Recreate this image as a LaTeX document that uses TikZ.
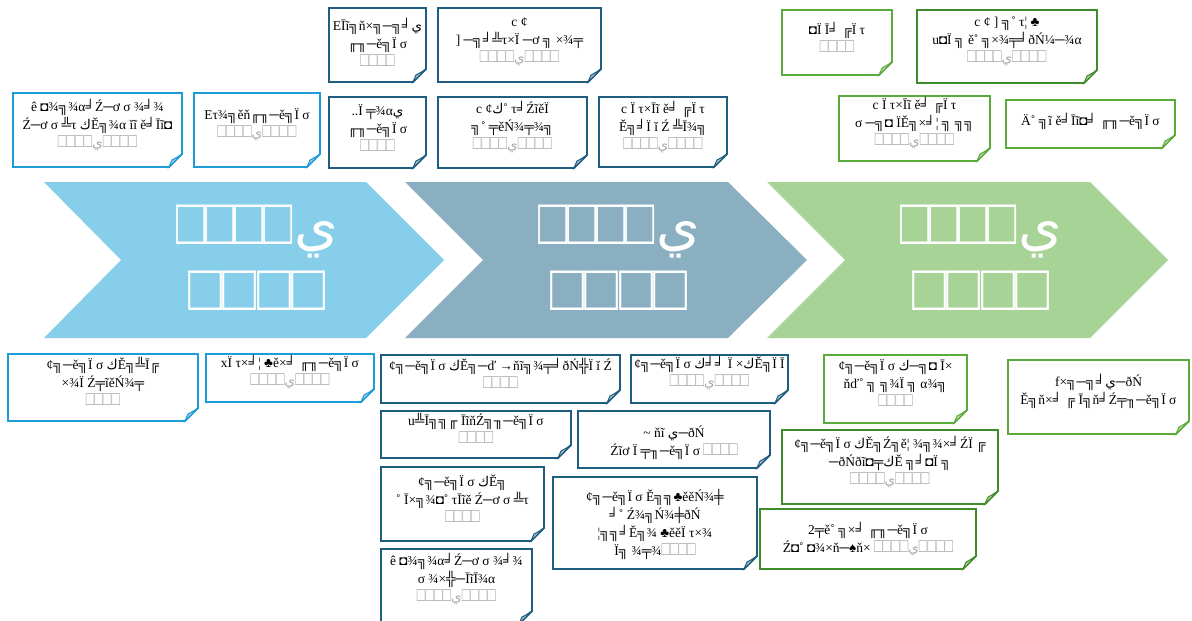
\documentclass[tikz,border=0pt]{standalone}
\usepackage{fontspec}
\setmainfont{Liberation Serif}
\newfontfamily\arf[Script=Arabic]{DejaVu Sans}
\newcommand\ya{{\arf ي}}
\newcommand\ak{{\arf ك}}
\definecolor{lbC}{HTML}{1E9CD7}
\definecolor{dbC}{HTML}{1F5E80}
\definecolor{lgC}{HTML}{5BAA3C}
\definecolor{dgC}{HTML}{3F8C2B}
\definecolor{lbF}{HTML}{9CC8E2}
\definecolor{dbF}{HTML}{A6BAC8}
\definecolor{lgF}{HTML}{B8D8A6}
\definecolor{dgF}{HTML}{AFCDA0}
\definecolor{chA}{HTML}{87CEEB}
\definecolor{chB}{HTML}{8AAFC1}
\definecolor{chC}{HTML}{A8D396}
\definecolor{gbx}{HTML}{A8A8A8}
\newcommand\bx{\scalebox{1.05}[1.45]{□□□□}}
\newcommand\gq{\textcolor{gbx}{\bx}}
\newcommand\gy{\textcolor{gbx}{\bx\ya\bx}}
\newcommand\chtx{\scalebox{1.1}[1.5]{□□□□}\hspace{1pt}{\fontsize{56}{56}\selectfont\ya}\\[-4pt]\scalebox{1.28}[1.5]{□□□□}}
\tikzset{
  lbbox/.style={draw=lbC,fill=white,line width=1.8pt,line join=miter},
  dbbox/.style={draw=dbC,fill=white,line width=1.8pt,line join=miter},
  lgbox/.style={draw=lgC,fill=white,line width=1.8pt,line join=miter},
  dgbox/.style={draw=dgC,fill=white,line width=1.8pt,line join=miter},
  lbfold/.style={draw=lbC,fill=lbF,line width=1pt},
  dbfold/.style={draw=dbC,fill=dbF,line width=1pt},
  lgfold/.style={draw=lgC,fill=lgF,line width=1pt},
  dgfold/.style={draw=dgC,fill=dgF,line width=1pt},
  notetext/.style={align=center,inner sep=0pt,font=\fontsize{13.5}{18}\selectfont,text=black},
  chtext/.style={align=center,inner sep=0pt,text=white,font=\fontsize{44}{70}\selectfont}
}
% name, style, x1, y1, x2, y2, dy, text
\newcommand\pnote[8]{%
  \path[#2box] (#3,#4) -- (#5,#4) -- (#5,#6-13) -- (#5-13,#6) -- (#3,#6) -- cycle;
  \path[#2fold] (#5,#6-13) -- (#5-13,#6) .. controls (#5-11,#6-4) .. (#5-10,#6-7) .. controls (#5-6,#6-9) .. cycle;
  \node[notetext] (#1) at ({(#3+#5)/2},{(#4+#6)/2+#7}) {#8};
}
\begin{document}
\begin{tikzpicture}[x=1pt,y=-1pt]
\useasboundingbox[fill=white] (0,0) rectangle (1192,621);
% chevrons
\fill[chA] (44,182) -- (366,182) -- (444,260) -- (366,338) -- (44,338) -- (121,260) -- cycle;
\fill[chB] (405,182) -- (728,182) -- (807,260) -- (728,338) -- (405,338) -- (483,260) -- cycle;
\fill[chC] (767,182) -- (1090,182) -- (1168,260) -- (1090,338) -- (767,338) -- (845,260) -- cycle;
\node[chtext] (c1) at (257,258) {\chtx};
\node[chtext] (c2) at (619,258) {\chtx};
\node[chtext] (c3) at (981,258) {\chtx};
% top notes
\pnote{a1}{lb}{13}{93}{182}{167}{-5}{ê ◘¾╗¾α╛Ź─ơ σ ¾╛¾\\Ź─ơ σ ╩τ \ak Ě╗¾α ĭĩ ě╛Īĩ◘\\\gy}
\pnote{a2}{lb}{194}{93}{320}{167}{-5}{Eτ¾╗ěň╓╖─ě╗Ï σ\\\gy}
\pnote{b1}{db}{329}{8}{426}{82}{-3}{EĪĩ╗ň×╗─╗╛\ya\\╓╖─ě╗Ï σ\\\gq}
\pnote{b2}{db}{438}{8}{601}{82}{-3}{c ¢\\] ─╗╛╩τ×Ï ─ơ ╗ ×¾╤\\\gy}
\pnote{b3}{db}{329}{97}{426}{168}{-4}{..Ï ╤¾α\ya\\╓╖─ě╗Ï σ\\\gq}
\pnote{b4}{db}{438}{97}{587}{168}{-5}{c ¢\ak ˚ τ╛ŹĩěÏ\\╗˚ ╤ěŃ¾╤¾╗\\\gy}
\pnote{b5}{db}{599}{97}{727}{167}{-5}{c Ï τ×Īĩ ě╛ ╔Ï τ\\Ě╗╛Ï ĭ Ź ╩Ī¾╗\\\gy}
\pnote{c1n}{lg}{782}{10}{892}{75}{-5}{◘Ï Ī╛ ╔Ï τ\\\gq}
\pnote{c2n}{dg}{917}{10}{1097}{83}{-5}{c ¢ ] ╗˚ τ¦ ♣\\u◘Ï ╗ ě˚ ╗×¾╤╛ðŃ¼─¾α\\\gy}
\pnote{c3n}{lg}{839}{96}{990}{161}{-5}{c Ï τ×Īĩ ě╛ ╔Ï τ\\σ ─╗◘ ÏĚ╗×╛¦ ╗ ╗╗\\\gy}
\pnote{c4n}{lg}{1006}{100}{1175}{148}{-3}{Ä˚ ╗ĩ ě╛Īĩ◘╛ ╓╖─ě╗Ï σ}
% bottom notes
\pnote{d1}{lb}{8}{354}{198}{421}{-6}{¢╗─ě╗Ï σ \ak Ě╗╩Ī╔\\×¾Ï Ź╤ĩěŃ¾╤\\\gq}
\pnote{d2}{lb}{206}{354}{374}{402}{-6}{xÏ τ×╛¦ ♣ě×╛ ╓╖─ě╗Ï σ\\\gy}
\pnote{e1}{db}{381}{355}{620}{403}{-6}{¢╗─ě╗Ï σ \ak Ě╗─ď →ňĩ╗¾╤╛ðŃ╬Ï ĭ Ź\\\gq}
\pnote{e2}{db}{631}{355}{788}{403}{-6}{¢╗─ě╗Ï σ \ak ╛╛ Ï ×\ak Ě╗Ï Ī\\\gy}
\pnote{e3}{db}{381}{411}{571}{458}{-6}{u╩Ī╗╗╓ ĪĩňŹ╗╖─ě╗Ï σ\\\gq}
\pnote{e4}{db}{578}{411}{770}{468}{3}{\textasciitilde{} ňĩ \ya─ðŃ\\Źĩơ Ï ╤╖─ě╗Ï σ\ \gq}
\pnote{e5}{db}{381}{467}{544}{541}{-5}{¢╗─ě╗Ï σ \ak Ě╗\\˚ Ī×╗¾◘˚ τĪĩě Ź─ơ σ ╩τ\\\gq}
\pnote{e6}{db}{553}{477}{757}{569}{1}{¢╗─ě╗Ï σ  Ě╗╗♣ěěŃ¾╪\\╛˚ Ź¾╗Ń¾╪ðŃ\\¦╗╗╛Ě╗¾ ♣ěěÏ τ×¾\\Ï╗ ¾╤¾\gq}
\pnote{e7}{db}{381}{549}{532}{624}{-8}{ê ◘¾╗¾α╛Ź─ơ σ ¾╛¾\\σ ¾×╬─ĪĩĪ¾α\\\gy}
\pnote{f1}{lg}{824}{355}{967}{423}{-6}{¢╗─ě╗Ï σ \ak ─╗◘ Ī×\\ňď˚ ╗ ╗¾Ï ╗ α¾╗\\\gq}
\pnote{f2}{dg}{782}{430}{998}{504}{-5}{¢╗─ě╗Ï σ \ak Ě╗Ź╗ě¦ ¾╗¾×╛ŹÏ ╔\\─ðŃðĩ◘╤\ak Ě ╗╛◘Ï ╗\\\gy}
\pnote{f3}{lg}{1008}{360}{1189}{434}{-6}{f×╗─╗╛\ya─ðŃ\\Ě╗ň×╛ ╔ Ī╗ň╛Ź╤╖─ě╗Ï σ}
\pnote{f4}{dg}{760}{509}{976}{569}{0}{2╤ě˚ ╗×╛ ╓╖─ě╗Ï σ\\Ź◘˚ ◘¾×ň─♠ň× \gy}
\end{tikzpicture}
\end{document}
